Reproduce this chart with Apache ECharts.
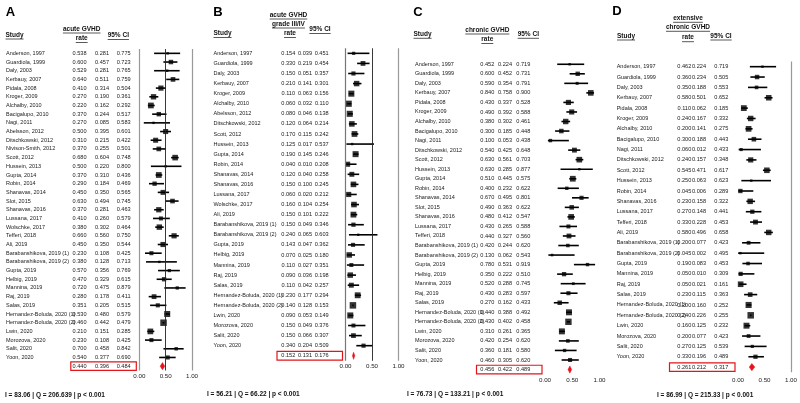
<!DOCTYPE html>
<html><head><meta charset="utf-8">
<script src="https://cdn.jsdelivr.net/npm/echarts@6/dist/echarts.min.js"></script>
<style>html,body{margin:0;padding:0;background:#fff}#c{width:800px;height:403px}</style>
</head><body><div id="c"></div>
<script>
// ---------------- DATA ----------------
const studiesA = ["Anderson, 1997","Guardiola, 1999","Daly, 2003","Kerbauy, 2007","Pidala, 2008","Kroger, 2009","Alchalby, 2010","Bacigalupo, 2010","Nagi, 2011","Abelsson, 2012","Ditschkowski, 2012","Nivison-Smith, 2012","Scott, 2012","Hussein, 2013","Gupta, 2014","Robin, 2014","Shanavas, 2014","Slot, 2015","Shanavas, 2016","Lussana, 2017","Wolschke, 2017","Tefferi, 2018","Ali, 2019","Barabanshikova, 2019 (1)","Barabanshikova, 2019 (2)","Gupta, 2019","Helbig, 2019","Mannina, 2019","Raj, 2019","Salas, 2019","Hernandez-Boluda, 2020 (1)","Hernandez-Boluda, 2020 (2)","Lwin, 2020","Morozova, 2020","Salit, 2020","Yoon, 2020"];
const rateA = [0.538,0.600,0.529,0.640,0.410,0.270,0.220,0.370,0.270,0.500,0.310,0.370,0.680,0.500,0.370,0.290,0.450,0.630,0.370,0.410,0.380,0.660,0.450,0.230,0.380,0.570,0.470,0.720,0.280,0.351,0.530,0.460,0.210,0.230,0.700,0.540];
const lowA  = [0.281,0.457,0.281,0.511,0.314,0.190,0.162,0.244,0.085,0.395,0.215,0.255,0.604,0.220,0.310,0.184,0.350,0.494,0.281,0.260,0.302,0.560,0.350,0.108,0.128,0.356,0.329,0.475,0.178,0.205,0.480,0.442,0.151,0.108,0.458,0.377];
const highA = [0.775,0.723,0.765,0.759,0.504,0.361,0.292,0.517,0.583,0.601,0.422,0.501,0.748,0.800,0.436,0.469,0.565,0.745,0.463,0.579,0.464,0.750,0.544,0.425,0.713,0.769,0.615,0.879,0.411,0.515,0.579,0.479,0.285,0.425,0.842,0.690];
const pooledA = [0.440,0.396,0.484];

const studiesB = ["Anderson, 1997","Guardiola, 1999","Daly, 2003","Kerbauy, 2007","Kroger, 2009","Alchalby, 2010","Abelsson, 2012","Ditschkowski, 2012","Scott, 2012","Hussein, 2013","Gupta, 2014","Robin, 2014","Shanavas, 2014","Shanavas, 2016","Lussana, 2017","Wolschke, 2017","Ali, 2019","Barabanshikova, 2019 (1)","Barabanshikova, 2019 (2)","Gupta, 2019","Helbig, 2019","Mannina, 2019","Raj, 2019","Salas, 2019","Hernandez-Boluda, 2020 (1)","Hernandez-Boluda, 2020 (2)","Lwin, 2020","Morozova, 2020","Salit, 2020","Yoon, 2020"];
const rateB = [0.154,0.330,0.150,0.210,0.110,0.060,0.080,0.120,0.170,0.125,0.190,0.040,0.120,0.150,0.060,0.160,0.150,0.150,0.240,0.143,0.070,0.110,0.090,0.110,0.230,0.140,0.090,0.150,0.150,0.340];
const lowB  = [0.039,0.219,0.051,0.141,0.063,0.032,0.046,0.064,0.115,0.017,0.145,0.010,0.040,0.100,0.020,0.104,0.101,0.049,0.065,0.047,0.025,0.027,0.036,0.042,0.177,0.128,0.053,0.049,0.066,0.204];
const highB = [0.451,0.454,0.357,0.301,0.156,0.110,0.138,0.214,0.242,0.537,0.246,0.208,0.258,0.245,0.212,0.254,0.222,0.346,0.603,0.362,0.180,0.351,0.198,0.257,0.294,0.153,0.149,0.376,0.307,0.509];
const pooledB = [0.152,0.131,0.176];

const studiesC = ["Anderson, 1997","Guardiola, 1999","Daly, 2003","Kerbauy, 2007","Pidala, 2008","Kroger, 2009","Alchalby, 2010","Bacigalupo, 2010","Nagi, 2011","Ditschkowski, 2012","Scott, 2012","Hussein, 2013","Gupta, 2014","Robin, 2014","Shanavas, 2014","Slot, 2015","Shanavas, 2016","Lussana, 2017","Tefferi, 2018","Barabanshikova, 2019 (1)","Barabanshikova, 2019 (2)","Gupta, 2019","Helbig, 2019","Mannina, 2019","Raj, 2019","Salas, 2019","Hernandez-Boluda, 2020 (1)","Hernandez-Boluda, 2020 (2)","Lwin, 2020","Morozova, 2020","Salit, 2020","Yoon, 2020"];
const rateC = [0.452,0.600,0.590,0.840,0.430,0.490,0.380,0.300,0.100,0.540,0.630,0.630,0.510,0.400,0.670,0.490,0.480,0.430,0.440,0.420,0.130,0.780,0.350,0.520,0.430,0.270,0.440,0.430,0.310,0.420,0.360,0.460];
const lowC  = [0.224,0.452,0.354,0.758,0.337,0.392,0.302,0.185,0.053,0.425,0.561,0.285,0.445,0.232,0.495,0.363,0.412,0.265,0.327,0.244,0.062,0.531,0.222,0.288,0.283,0.162,0.388,0.402,0.261,0.254,0.181,0.305];
const highC = [0.719,0.731,0.791,0.900,0.528,0.588,0.461,0.448,0.438,0.648,0.703,0.877,0.575,0.622,0.801,0.622,0.547,0.588,0.560,0.620,0.543,0.919,0.510,0.745,0.597,0.433,0.492,0.458,0.365,0.620,0.580,0.620];
const pooledC = [0.456,0.422,0.489];

const studiesD = ["Anderson, 1997","Guardiola, 1999","Daly, 2003","Kerbauy, 2007","Pidala, 2008","Kroger, 2009","Alchalby, 2010","Bacigalupo, 2010","Nagi, 2011","Ditschkowski, 2012","Scott, 2012","Hussein, 2013","Robin, 2014","Shanavas, 2016","Lussana, 2017","Tefferi, 2018","Ali, 2019","Barabanshikova, 2019 (1)","Barabanshikova, 2019 (2)","Gupta, 2019","Mannina, 2019","Raj, 2019","Salas, 2019","Hernandez-Boluda, 2020 (1)","Hernandez-Boluda, 2020 (2)","Lwin, 2020","Morozova, 2020","Salit, 2020","Yoon, 2020"];
const rateD = [0.462,0.360,0.350,0.580,0.110,0.240,0.200,0.300,0.060,0.240,0.545,0.250,0.045,0.230,0.270,0.330,0.580,0.200,0.045,0.190,0.050,0.050,0.230,0.200,0.240,0.160,0.200,0.270,0.330];
const lowD  = [0.224,0.234,0.188,0.501,0.062,0.167,0.141,0.188,0.012,0.157,0.471,0.063,0.006,0.158,0.148,0.228,0.496,0.077,0.002,0.083,0.010,0.021,0.115,0.160,0.226,0.125,0.077,0.125,0.196];
const highD = [0.719,0.505,0.553,0.652,0.185,0.332,0.275,0.443,0.433,0.348,0.617,0.623,0.289,0.322,0.441,0.453,0.658,0.423,0.495,0.453,0.309,0.161,0.363,0.252,0.255,0.232,0.423,0.539,0.489];
const pooledD = [0.261,0.212,0.317];

const xTickLabels = ["0.00","0.50","1.00"];
const panelLetters = ["A","B","C","D"];
const headA = ["Study","acute GVHD","rate","95% CI"];
const headB = ["Study","acute GVHD","grade III/IV","rate","95% CI"];
const headC = ["Study","chronic GVHD","rate","95% CI"];
const headD = ["Study","extensive","chronic GVHD","rate","95% CI"];
const footers = ["I = 83.06 | Q = 206.639 | p < 0.001","I = 56.21 | Q = 66.22 | p < 0.001","I = 76.73 | Q = 133.21 | p < 0.001","I = 86.99 | Q = 215.33 | p < 0.001"];

// ---------------- LAYOUT ----------------
const RFONT = "'Liberation Sans Narrow','Arial Narrow','Liberation Sans',Arial,sans-serif";
const HFONT = "'Liberation Sans',Arial,sans-serif";
const layouts = [
  {x0:139.3, w:52.7, top:49.0, h:321.5, name:6, rate:79.5, lo:102, hi:123.7, xm:3,
   letter:[10.5,12.5], head:[[5.5,35,'left'],[81.7,29,'center'],[81.7,38.5,'center'],[118.3,35.5,'center']],
   foot:[5,395], vlines:[[0,'#999',1.2],[0.5,'#222',0.9],[1,'#999',1.2]]},
  {x0:345.5, w:53.0, top:48.3, h:312.5, name:213.5, rate:288.3, lo:305, hi:321.7, xm:2,
   letter:[218,12.5], head:[[213.5,33.5,'left'],[288.5,15,'center'],[288.5,24,'center'],[290,33.5,'center'],[320,29.5,'center']],
   foot:[207,394.5], vlines:[[0,'#777',1.2],[0.5,'#222',0.9],[1,'#999',1.2]]},
  {x0:545.0, w:54.5, top:59.5, h:314.8, name:415, rate:487.3, lo:505, hi:523.3, xm:3,
   letter:[418,12.5], head:[[413.5,34.3,'left'],[487.3,30,'center'],[487.3,39.5,'center'],[528.3,34.3,'center']],
   foot:[407,394.5], vlines:[]},
  {x0:738.0, w:57.0, top:61.5, h:310.8, name:616.7, rate:684.3, lo:699, hi:721.3, xm:4.5,
   letter:[617,11.5], head:[[617,36,'left'],[688,18.3,'center'],[688,27.3,'center'],[688,37.7,'center'],[721,36,'center']],
   foot:[657,395], vlines:[[1,'#999',1.2]]}
];
const panels = [
  {studies:studiesA, rate:rateA, low:lowA, high:highA, pooled:pooledA, head:headA},
  {studies:studiesB, rate:rateB, low:lowB, high:highB, pooled:pooledB, head:headB},
  {studies:studiesC, rate:rateC, low:lowC, high:highC, pooled:pooledC, head:headC},
  {studies:studiesD, rate:rateD, low:lowD, high:highD, pooled:pooledD, head:headD}
];

const f3 = v => v.toFixed(3);
const mctx = document.createElement('canvas').getContext('2d');
function measure(t, font){ mctx.font = font; return mctx.measureText(t).width; }

const grids=[], xAxes=[], yAxes=[], series=[], graphics=[];
panels.forEach((p, k) => {
  const L = layouts[k];
  const n = p.studies.length + 1;
  const cats = Array.from({length:n}, (_, i) => 'r' + i);
  grids.push({left:L.x0, top:L.top, width:L.w, height:L.h});
  xAxes.push({type:'value', gridIndex:k, min:0, max:1, interval:0.5,
    axisLine:{show:false}, axisTick:{show:false}, splitLine:{show:false},
    axisLabel:{fontSize:6.2, color:'#222', margin:L.xm, fontFamily:HFONT,
      formatter: v => xTickLabels[Math.round(v * 2)]}});
  const yBase = yAxes.length;
  yAxes.push({type:'category', gridIndex:k, data:cats, inverse:true,
    axisLine:{show:false}, axisTick:{show:false}, axisLabel:{show:false}, splitLine:{show:false}});
  const cols = [
    {x:L.name, align:'left', size:5.5, lab:p.studies.concat([''])},
    {x:L.rate, align:'center', size:5.6, lab:p.rate.concat([p.pooled[0]]).map(f3)},
    {x:L.lo, align:'center', size:5.6, lab:p.low.concat([p.pooled[1]]).map(f3)},
    {x:L.hi, align:'center', size:5.6, lab:p.high.concat([p.pooled[2]]).map(f3)}
  ];
  cols.forEach(c => yAxes.push({type:'category', gridIndex:k, data:cats, inverse:true, position:'left',
    offset: L.x0 - c.x, axisLine:{show:false}, axisTick:{show:false}, splitLine:{show:false},
    axisLabel:{interval:0, margin:0, align:c.align, fontSize:c.size, color:'#1a1a1a', fontFamily:RFONT,
      formatter: v => c.lab[parseInt(v.slice(1), 10)]}}));

  // CI lines
  series.push({type:'custom', xAxisIndex:k, yAxisIndex:yBase, silent:true, clip:false,
    data: p.studies.map((s, i) => [p.low[i], p.high[i], i]),
    encode:{x:[0,1], y:2},
    renderItem:(params, api) => {
      const a = api.coord([api.value(0), api.value(2)]);
      const b = api.coord([api.value(1), api.value(2)]);
      return {type:'line', shape:{x1:a[0], y1:a[1], x2:b[0], y2:b[1]}, style:{stroke:'#000', lineWidth:1.6}};
    }});
  // squares
  series.push({type:'scatter', xAxisIndex:k, yAxisIndex:yBase, silent:true,
    data: p.rate.map((r, i) => [r, i, p.low[i], p.high[i]]),
    encode:{x:0, y:1}, symbol:'rect',
    symbolSize: v => Math.max(2.4, Math.min(6.5, 6.9 - 9 * (v[3] - v[2]))),
    itemStyle:{color:'#000'},
    markLine:{silent:true, symbol:'none', label:{show:false}, animation:false,
      data: L.vlines.map(l => ({xAxis:l[0], lineStyle:{color:l[1], width:l[2], type:'solid'}}))}});
  // pooled diamond + box
  series.push({type:'custom', xAxisIndex:k, yAxisIndex:yBase, silent:true, clip:false,
    data: [[p.pooled[0], p.pooled[1], p.pooled[2], n - 1]],
    encode:{x:[0,1,2], y:3},
    renderItem:(params, api) => {
      const idx = api.value(3);
      const c = api.coord([api.value(0), idx]);
      const l = api.coord([api.value(1), idx]);
      const r = api.coord([api.value(2), idx]);
      const z = api.coord([0, idx]);
      return {type:'group', children:[
        {type:'rect', shape:{x:z[0]-68.5, y:c[1]-4.3, width:65.5, height:8.6},
         style:{fill:'none', stroke:'#e0161b', lineWidth:1.2}},
        {type:'polygon', shape:{points:[[l[0],c[1]],[c[0],c[1]-3.6],[r[0],c[1]],[c[0],c[1]+3.6]]},
         style:{fill:'#e8121a', stroke:'#e8121a', lineWidth:0.5}}
      ]};
    }});

  // panel letter
  graphics.push({type:'text', x:L.letter[0], y:L.letter[1], silent:true,
    style:{text:panelLetters[k], font:'bold 13px ' + HFONT, fill:'#000', align:'center', verticalAlign:'middle', textAlign:'center', textVerticalAlign:'middle'}});
  // headers (underlined)
  p.head.forEach((t, j) => {
    const [hx, hy, al] = L.head[j];
    const font = 'bold 6.5px ' + HFONT;
    graphics.push({type:'text', x:hx, y:hy, silent:true,
      style:{text:t, font:font, fill:'#111', align:al, verticalAlign:'middle', textAlign:al, textVerticalAlign:'middle'}});
    const w = measure(t, font);
    const x1 = al === 'center' ? hx - w / 2 : hx;
    graphics.push({type:'line', silent:true, shape:{x1:x1, y1:hy + 4, x2:x1 + w, y2:hy + 4}, style:{stroke:'#111', lineWidth:0.7}});
  });
  // footer
  graphics.push({type:'text', x:L.foot[0], y:L.foot[1], silent:true,
    style:{text:footers[k], font:'bold 6.5px ' + HFONT, fill:'#111', align:'left', verticalAlign:'middle', textAlign:'left', textVerticalAlign:'middle'}});
});

const chart = echarts.init(document.getElementById('c'), null, {renderer:'canvas'});
chart.setOption({
  animation:false,
  backgroundColor:'#fff',
  grid:grids, xAxis:xAxes, yAxis:yAxes, series:series, graphic:graphics
});
</script></body></html>
